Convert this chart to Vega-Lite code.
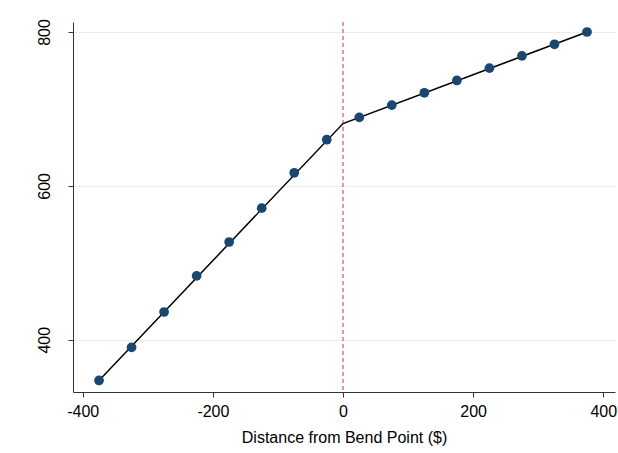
{
  "$schema": "https://vega.github.io/schema/vega-lite/v6.json",
  "width": 542,
  "height": 370,
  "autosize": {"type": "none"},
  "padding": {"left": 73, "top": 22, "right": 3, "bottom": 61},
  "background": "white",
  "config": {
    "view": {"stroke": null},
    "font": "Liberation Sans",
    "axis": {
      "labelFont": "Liberation Sans",
      "titleFont": "Liberation Sans",
      "labelFontSize": 16,
      "titleFontSize": 16,
      "labelColor": "black",
      "titleColor": "black",
      "titleFontWeight": "normal",
      "domainColor": "#333333",
      "tickColor": "#333333",
      "tickSize": 5,
      "gridColor": "#e6eef0",
      "gridWidth": 1
    }
  },
  "datasets": {
    "bins": [
      {"dist": -375, "val": 347},
      {"dist": -325, "val": 390},
      {"dist": -275, "val": 436},
      {"dist": -225, "val": 483},
      {"dist": -175, "val": 527},
      {"dist": -125, "val": 571},
      {"dist": -75, "val": 617},
      {"dist": -25, "val": 660},
      {"dist": 25, "val": 689},
      {"dist": 75, "val": 705},
      {"dist": 125, "val": 721},
      {"dist": 175, "val": 737},
      {"dist": 225, "val": 753},
      {"dist": 275, "val": 769},
      {"dist": 325, "val": 784},
      {"dist": 375, "val": 800}
    ],
    "fit": [
      {"dist": -375, "val": 347},
      {"dist": 0, "val": 681},
      {"dist": 375, "val": 800}
    ],
    "bend": [{"dist": 0}]
  },
  "layer": [
    {
      "data": {"name": "bend"},
      "mark": {"type": "rule", "color": "#e07394", "strokeWidth": 1.5, "strokeDash": [4, 3]},
      "encoding": {
        "x": {"field": "dist", "type": "quantitative"}
      }
    },
    {
      "data": {"name": "fit"},
      "mark": {"type": "line", "color": "black", "strokeWidth": 1.5},
      "encoding": {
        "x": {"field": "dist", "type": "quantitative"},
        "y": {"field": "val", "type": "quantitative"}
      }
    },
    {
      "data": {"name": "bins"},
      "mark": {"type": "circle", "color": "#1a476f", "opacity": 1, "size": 95},
      "encoding": {
        "x": {
          "field": "dist", "type": "quantitative",
          "scale": {"domain": [-415, 418], "nice": false, "zero": false},
          "axis": {"values": [-400, -200, 0, 200, 400], "grid": false, "labelExpr": "'' + datum.value", "title": "Distance from Bend Point ($)", "titlePadding": 10, "labelPadding": 6}
        },
        "y": {
          "field": "val", "type": "quantitative",
          "scale": {"domain": [332, 813], "nice": false, "zero": false},
          "axis": {"values": [400, 600, 800], "grid": true, "title": null, "labelAngle": -90, "labelAlign": "center", "labelBaseline": "bottom", "labelPadding": 16}
        }
      }
    }
  ]
}
